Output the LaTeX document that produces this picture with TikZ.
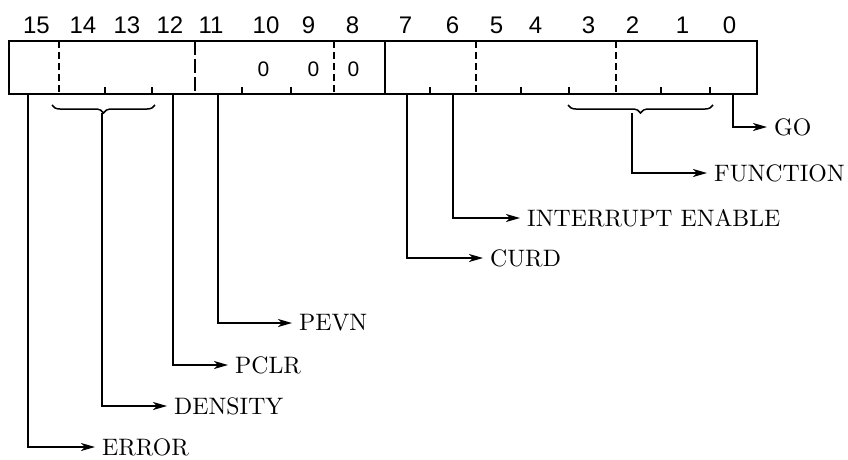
\documentclass[tikz,border=0pt]{standalone}
\usepackage{fontspec}
\newfontfamily\digitfont{Liberation Sans}
\newfontfamily\labfont{lmroman10-regular}[Extension=.otf]
\usetikzlibrary{arrows.meta,decorations.pathreplacing}
\begin{document}
\begin{tikzpicture}[x=1pt,y=-1pt,
  regbox/.style={line width=2.2pt},
  divsolid/.style={line width=1.4pt},
  divdash/.style={line width=1.4pt,dash pattern=on 7pt off 4pt},
  divlong/.style={line width=1.4pt,dash pattern=on 14pt off 4pt},
  tick/.style={line width=1.1pt},
  conn/.style={line width=1.4pt,-{Stealth[length=14pt,width=8pt,inset=4pt]}},
  brc/.style={line width=1.5pt,decorate,decoration={brace,amplitude=8pt,aspect=0.5}},
  bitnum/.style={font=\digitfont\fontsize{24}{27}\selectfont,inner sep=0pt},
  zero/.style={font=\digitfont\fontsize{21}{23}\selectfont,inner sep=0pt},
  lab/.style={anchor=west,inner xsep=7pt,inner ysep=0pt,font=\labfont\fontsize{23.8}{28}\selectfont}]
\useasboundingbox (0,0) rectangle (848,459);
% register box
\draw[regbox] (9,41) rectangle (757,94);
% field dividers
\draw[divdash] (59,41) -- (59,94);
\draw[divlong] (195,41) -- (195,94);
\draw[divdash] (334,41) -- (334,94);
\draw[divsolid] (385,41) -- (385,94);
\draw[divdash] (476,41) -- (476,94);
\draw[divdash] (616,41) -- (616,94);
% bit ticks
\foreach \x in {105,152,242,291,430,521,569,661,710}
  \draw[tick] (\x,94) -- (\x,87);
% bit numbers
\node[bitnum] (n15) at (36.5,25) {15};
\node[bitnum] (n14) at (83,25) {14};
\node[bitnum] (n13) at (127,25) {13};
\node[bitnum] (n12) at (170,25) {12};
\node[bitnum] (n11) at (211,25) {11};
\node[bitnum] (n10) at (266,25) {10};
\node[bitnum] (n9) at (308.5,25) {9};
\node[bitnum] (n8) at (352.5,25) {8};
\node[bitnum] (n7) at (405.5,25) {7};
\node[bitnum] (n6) at (452.5,25) {6};
\node[bitnum] (n5) at (496.5,25) {5};
\node[bitnum] (n4) at (535.5,25) {4};
\node[bitnum] (n3) at (588.5,25) {3};
\node[bitnum] (n2) at (632.5,25) {2};
\node[bitnum] (n1) at (682.5,25) {1};
\node[bitnum] (n0) at (729.5,25) {0};
% fixed zeros
\node[zero] (z10) at (263.5,69) {0};
\node[zero] (z9) at (313.5,69) {0};
\node[zero] (z8) at (353.5,69) {0};
% braces
\draw[brc] (155,105) -- (52,105);
\draw[brc] (713,105) -- (568,105);
% connection points
\coordinate (b15) at (28,94);
\coordinate (bden) at (102,113);
\coordinate (b12) at (173,94);
\coordinate (b11) at (218,94);
\coordinate (b7) at (407,94);
\coordinate (b6) at (453,94);
\coordinate (bfun) at (632,113);
\coordinate (b0) at (733,94);
% labels
\node[lab] (go) at (767,127) {GO};
\node[lab] (function) at (707,173) {FUNCTION};
\node[lab] (inten) at (520,218) {INTERRUPT ENABLE};
\node[lab] (curd) at (483,258) {CURD};
\node[lab] (pevn) at (292,323) {PEVN};
\node[lab] (pclr) at (228,365) {PCLR};
\node[lab] (density) at (167,406) {DENSITY};
\node[lab] (error) at (95,447) {ERROR};
% connectors
\draw[conn] (b0) |- (go.west);
\draw[conn] (bfun) |- (function.west);
\draw[conn] (b6) |- (inten.west);
\draw[conn] (b7) |- (curd.west);
\draw[conn] (b11) |- (pevn.west);
\draw[conn] (b12) |- (pclr.west);
\draw[conn] (bden) |- (density.west);
\draw[conn] (b15) |- (error.west);
\end{tikzpicture}
\end{document}
